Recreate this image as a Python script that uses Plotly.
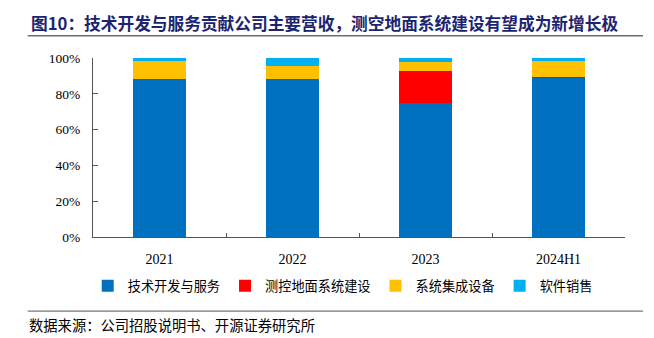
import plotly.graph_objects as go

categories = ["2021", "2022", "2023", "2024H1"]
tech_service = [88.0, 88.0, 74.8, 89.2]
ground_system = [0.0, 0.0, 17.9, 0.3]
system_integration = [10.2, 7.4, 5.0, 9.0]
software_sales = [1.8, 4.6, 2.3, 1.5]

series_names = ["技术开发与服务", "测控地面系统建设", "系统集成设备", "软件销售"]
series_colors = ["#0070C0", "#FF0000", "#FFC000", "#00B0F0"]
series_values = [tech_service, ground_system, system_integration, software_sales]

W, H = 654, 338
L, R, T, B = 93.3, 29, 57.5, 100.5
pw = W - L - R
ph = H - T - B


def px_x(x):
    return (x - L) / pw


def px_y(y):
    return (H - B - y) / ph


fig = go.Figure()
for name, color, vals in zip(series_names, series_colors, series_values):
    fig.add_trace(go.Bar(x=categories, y=vals, name=name,
                         marker=dict(color=color, line=dict(width=0))))

serif = "Liberation Serif, Times New Roman, serif"
cjk = "Noto Sans CJK SC, sans-serif"

fig.update_layout(
    width=W, height=H,
    margin=dict(l=L, r=R, t=T, b=B, pad=0),
    barmode="stack",
    bargap=0.6,
    plot_bgcolor="white",
    paper_bgcolor="white",
    showlegend=True,
    legend=dict(orientation="h", traceorder="normal", x=px_x(88), xanchor="left",
                y=px_y(287), yanchor="middle",
                font=dict(family=cjk, size=13.2, color="#000000"),
                itemwidth=30, tracegroupgap=0,
                bgcolor="rgba(0,0,0,0)"),
    xaxis=dict(type="category", showline=True, linecolor="#555555", linewidth=1,
               ticks="inside", ticklen=4, tickcolor="#555555", tickson="boundaries",
               tickfont=dict(family=serif, size=14, color="#000000"),
               ticklabelstandoff=9, showgrid=False, zeroline=False, fixedrange=True),
    yaxis=dict(range=[0, 100], tickvals=[0, 20, 40, 60, 80, 100],
               ticktext=["0%", "20%", "40%", "60%", "80%", "100%"],
               showline=True, linecolor="#555555", linewidth=1,
               ticks="inside", ticklen=5, tickcolor="#555555",
               tickfont=dict(family=serif, size=13.5, color="#000000"),
               ticklabelstandoff=9, showgrid=False, zeroline=False, fixedrange=True),
)

fig.add_annotation(text="<b>图10：技术开发与服务贡献公司主要营收，测空地面系统建设有望成为新增长极</b>",
                   xref="paper", yref="paper", x=px_x(29), y=px_y(22.5),
                   xanchor="left", yanchor="middle", showarrow=False,
                   font=dict(family=cjk, size=16.7, color="#1C2470"))
fig.add_shape(type="line", xref="paper", yref="paper",
              x0=px_x(28), x1=px_x(643), y0=px_y(35), y1=px_y(35),
              line=dict(color="#6E6E6E", width=1.5))
fig.add_shape(type="line", xref="paper", yref="paper",
              x0=px_x(28), x1=px_x(643), y0=px_y(312), y1=px_y(312),
              line=dict(color="#555555", width=1))
fig.add_annotation(text="数据来源：公司招股说明书、开源证券研究所",
                   xref="paper", yref="paper", x=px_x(27), y=px_y(325),
                   xanchor="left", yanchor="middle", showarrow=False,
                   font=dict(family=cjk, size=14.3, color="#000000"))

fig.write_html("out.html")
